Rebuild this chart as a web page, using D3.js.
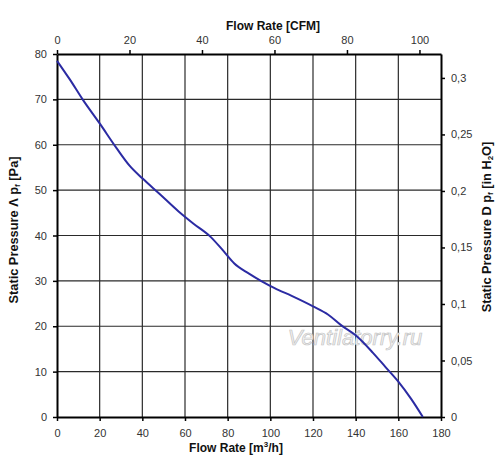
<!DOCTYPE html>
<html>
<head>
<meta charset="utf-8">
<script src="https://cdn.jsdelivr.net/npm/d3@7"></script>
<style>
  body { margin: 0; background: #fff; }
  svg { display: block; font-family: 'Liberation Sans', Arial, sans-serif; }
  .axis-title { font-weight: bold; font-size: 12px; fill: #111; }
  .side-title { font-size: 12.8px; }
</style>
</head>
<body>
<div id="chartContainer"></div>
<script>
// fan curve
const flowM3h = [0, 6, 12, 20, 28, 34, 40, 48, 57, 64, 72, 78, 83, 90, 96, 102, 110, 120, 127, 133, 140, 148, 154, 160, 166, 171.5];
const pressurePa = [78.5, 74.4, 70, 64.7, 59.2, 55.4, 52.6, 49.2, 45.3, 42.6, 39.7, 36.6, 33.9, 31.6, 29.9, 28.4, 26.7, 24.4, 22.6, 20.3, 18, 14.2, 11, 7.8, 4, 0];

const flowTicks = [0, 20, 40, 60, 80, 100, 120, 140, 160, 180];
const pressureTicks = [0, 10, 20, 30, 40, 50, 60, 70, 80];
const cfmTicks = [0, 20, 40, 60, 80, 100];
const inH2OTicks = [0, 0.05, 0.1, 0.15, 0.2, 0.25, 0.3];

const M3H_PER_CFM = 1.699;
const PA_PER_INH2O = 249.09;

const svgWidth = 500;
const svgHeight = 473;
const margin = { top: 54, right: 59, bottom: 56, left: 57 };
const chartWidth = svgWidth - margin.left - margin.right;
const chartHeight = svgHeight - margin.top - margin.bottom;

const svg = d3.select('#chartContainer').append('svg').attr('width', svgWidth).attr('height', svgHeight);
const chart = svg.append('g').attr('transform', `translate(${margin.left}, ${margin.top})`);

const xScale = d3.scaleLinear().domain([0, 180]).range([0, chartWidth]);
const yScale = d3.scaleLinear().domain([0, 80]).range([chartHeight, 0]);
const xTopScale = d3.scaleLinear().domain([0, 180 / M3H_PER_CFM]).range([0, chartWidth]);
const yRightScale = d3.scaleLinear().domain([0, 80 / PA_PER_INH2O]).range([chartHeight, 0]);

// grid
chart.append('g')
    .selectAll('line')
    .data(flowTicks.slice(1, -1))
    .enter()
    .append('line')
    .attr('x1', (d) => xScale(d)).attr('x2', (d) => xScale(d))
    .attr('y1', 0).attr('y2', chartHeight)
    .attr('stroke', '#2a2a2a').attr('stroke-width', 1.2);

chart.append('g')
    .selectAll('line')
    .data(pressureTicks.slice(1, -1))
    .enter()
    .append('line')
    .attr('y1', (d) => yScale(d)).attr('y2', (d) => yScale(d))
    .attr('x1', 0).attr('x2', chartWidth)
    .attr('stroke', '#2a2a2a').attr('stroke-width', 1.2);

// axes
const commaFmt = (d) => String(d).replace('.', ',');

const styleAxis = (g) => {
    g.select('.domain').attr('stroke', '#000').attr('stroke-width', 2);
    g.selectAll('.tick line').attr('stroke', '#000').attr('stroke-width', 1.5);
};

chart.append('g')
    .attr('transform', `translate(0, ${chartHeight})`)
    .call(d3.axisBottom(xScale).tickValues(flowTicks).tickSize(4).tickSizeOuter(0).tickPadding(8))
    .call(styleAxis);

chart.append('g')
    .call(d3.axisLeft(yScale).tickValues(pressureTicks).tickSize(4).tickSizeOuter(0).tickPadding(6))
    .call(styleAxis);

chart.append('g')
    .call(d3.axisTop(xTopScale).tickValues(cfmTicks).tickSize(4).tickSizeOuter(0).tickPadding(6))
    .call(styleAxis);

chart.append('g')
    .attr('transform', `translate(${chartWidth}, 0)`)
    .call(d3.axisRight(yRightScale).tickValues(inH2OTicks).tickFormat(commaFmt).tickSize(4).tickSizeOuter(0).tickPadding(6))
    .call(styleAxis);

chart.selectAll('.tick text').style('font-family', "'Liberation Sans', Arial, sans-serif").style('font-size', '11px').attr('fill', '#333');

// watermark
chart.append('text')
    .attr('x', 298)
    .attr('y', 291)
    .attr('text-anchor', 'middle')
    .style('font-family', "'Liberation Sans', Arial, sans-serif")
    .style('font-style', 'italic')
    .style('font-size', '22px')
    .attr('fill', '#f2f2f2')
    .attr('stroke', '#c4c4c4')
    .attr('stroke-width', 0.7)
    .text('Ventilatorry.ru');

// curve
const line = d3.line()
    .x((d, i) => xScale(flowM3h[i]))
    .y((d) => yScale(d))
    .curve(d3.curveMonotoneX);

chart.append('path')
    .datum(pressurePa)
    .attr('fill', 'none')
    .attr('stroke', '#2b2ba3')
    .attr('stroke-width', 2)
    .attr('d', line);

// titles
svg.append('text')
    .attr('class', 'axis-title')
    .attr('x', 273)
    .attr('y', 30)
    .attr('text-anchor', 'middle')
    .text('Flow Rate [CFM]');

const bottomTitle = svg.append('text')
    .attr('class', 'axis-title')
    .attr('x', 236)
    .attr('y', 452)
    .attr('text-anchor', 'middle');
bottomTitle.append('tspan').text('Flow Rate [m');
bottomTitle.append('tspan').attr('font-size', '8px').attr('dy', -5).text('3');
bottomTitle.append('tspan').attr('dy', 5).text('/h]');

const leftTitle = svg.append('text')
    .attr('class', 'axis-title side-title')
    .attr('transform', 'translate(18, 230) rotate(-90)')
    .attr('text-anchor', 'middle');
leftTitle.append('tspan').text('Static Pressure Λ p');
leftTitle.append('tspan').attr('font-size', '8px').attr('dy', 2).text('f');
leftTitle.append('tspan').attr('dy', -2).text(' [Pa]');

const rightTitle = svg.append('text')
    .attr('class', 'axis-title side-title')
    .attr('transform', 'translate(491, 227) rotate(-90)')
    .attr('text-anchor', 'middle');
rightTitle.append('tspan').text('Static Pressure D p');
rightTitle.append('tspan').attr('font-size', '8px').attr('dy', 2).text('f');
rightTitle.append('tspan').attr('dy', -2).text(' [in H');
rightTitle.append('tspan').attr('font-size', '8px').attr('dy', 2).text('2');
rightTitle.append('tspan').attr('dy', -2).text('O]');
</script>
</body>
</html>
